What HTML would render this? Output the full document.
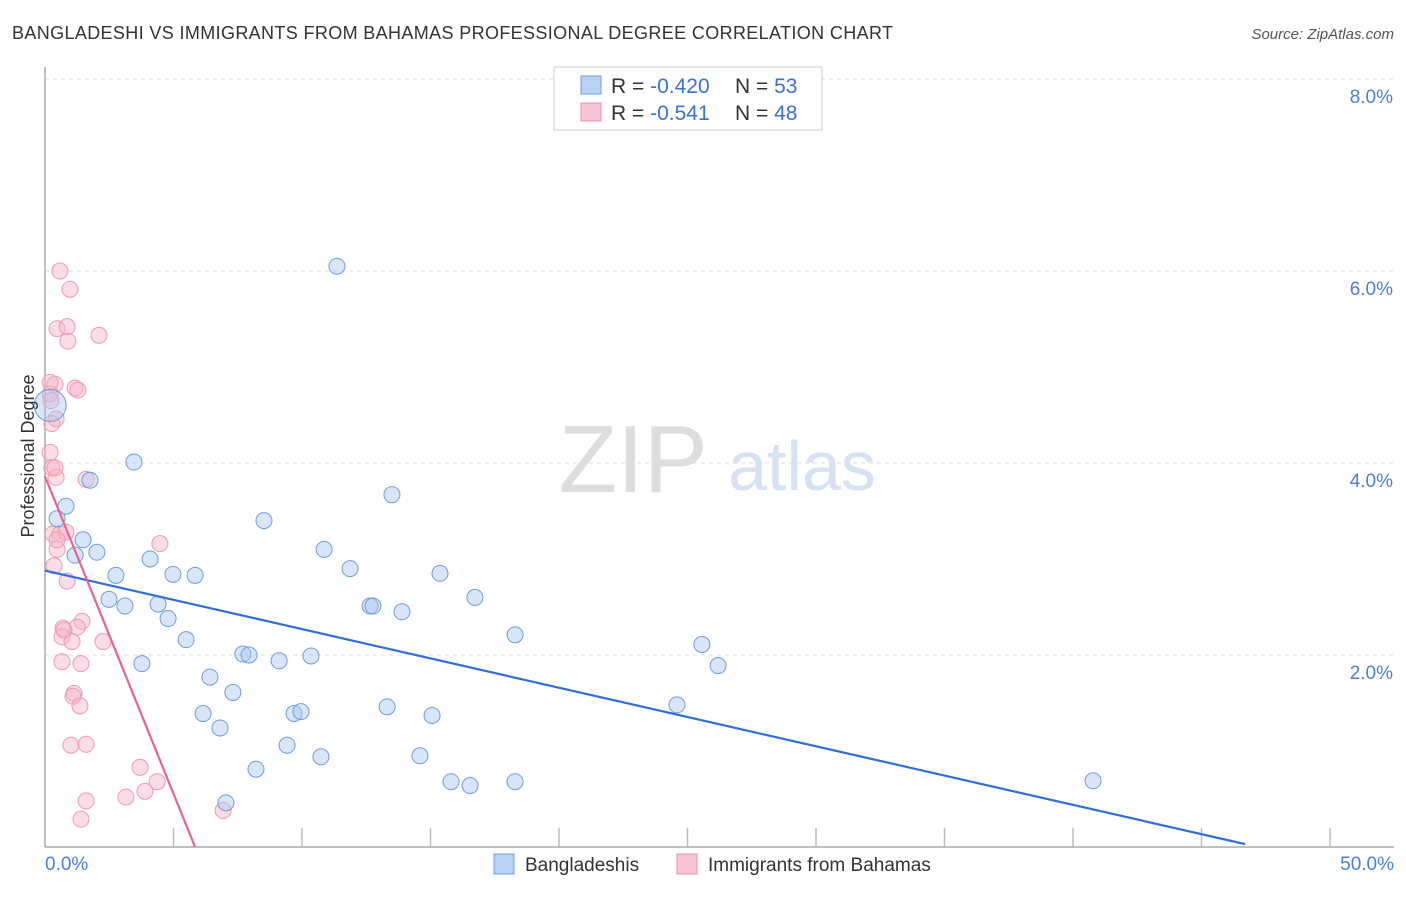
<!DOCTYPE html>
<html><head><meta charset="utf-8"><style>
body{margin:0;background:#fff;font-family:"Liberation Sans",sans-serif;}
svg text{font-family:"Liberation Sans",sans-serif;}
</style></head><body>
<svg width="1406" height="892" xmlns="http://www.w3.org/2000/svg">
<text x="12" y="39" font-size="18" fill="#333" textLength="881">BANGLADESHI VS IMMIGRANTS FROM BAHAMAS PROFESSIONAL DEGREE CORRELATION CHART</text>
<text x="1394" y="39" font-size="15" fill="#555" font-style="italic" text-anchor="end">Source: ZipAtlas.com</text>
<g>
<text x="633" y="492" font-size="96" fill="#ddd" font-family="Liberation Serif,serif" text-anchor="middle">ZIP</text>
<text x="802" y="490" font-size="70" fill="#d4e2f4" text-anchor="middle">atlas</text>
</g>
<g id="grid"></g>
<g id="axes"></g>
<g id="pts"></g>
<g id="lines"></g>
<text transform="translate(34,456) rotate(-90)" font-size="18" fill="#333" text-anchor="middle">Professional Degree</text>
<g>
<rect x="554" y="67" width="268" height="63" fill="#fff" stroke="#ccc"/>
<rect x="581" y="76" width="20" height="18" fill="#b9d2f3" stroke="#6c9ee0"/>
<rect x="581" y="103" width="20" height="18" fill="#f8c7d6" stroke="#ea90ac"/>
<text x="611" y="93" font-size="21" fill="#333">R = <tspan fill="#3a72d4">-0.420</tspan></text>
<text x="735" y="93" font-size="21" fill="#333">N = <tspan fill="#3a72d4">53</tspan></text>
<text x="611" y="120" font-size="21" fill="#333">R =  <tspan fill="#3a72d4">-0.541</tspan></text>
<text x="735" y="120" font-size="21" fill="#333">N = <tspan fill="#3a72d4">48</tspan></text>
</g>
<g>
<rect x="494" y="854" width="20" height="20" fill="#b9d2f3" stroke="#6c9ee0"/>
<text x="525" y="871" font-size="19" fill="#333">Bangladeshis</text>
<rect x="677" y="854" width="20" height="20" fill="#f8c7d6" stroke="#ea90ac"/>
<text x="708" y="871" font-size="19" fill="#333">Immigrants from Bahamas</text>
</g>
</svg>
<script>
const yTicks=[2,4,6,8];
const yTickLabels=["2.0%","4.0%","6.0%","8.0%"];
const xTickLabels=["0.0%","50.0%"];
const blueX=[11.36,3.46,1.75,0.82,0.47,1.48,2.02,1.17,4.09,8.52,13.5,10.86,2.76,4.98,5.84,11.87,15.37,16.73,2.49,3.11,4.4,4.79,12.65,12.76,13.89,5.49,18.29,3.77,7.7,7.94,9.11,10.35,25.56,26.19,6.42,7.31,6.15,6.81,9.69,9.96,13.31,15.06,24.59,9.42,10.74,14.59,8.21,15.8,16.54,18.29,40.78,7.04,0.2];
const blueY=[6.05,4.01,3.82,3.55,3.42,3.2,3.07,3.04,3.0,3.4,3.67,3.1,2.83,2.84,2.83,2.9,2.85,2.6,2.58,2.51,2.53,2.38,2.51,2.51,2.45,2.16,2.21,1.91,2.01,2.0,1.94,1.99,2.11,1.89,1.77,1.61,1.39,1.24,1.39,1.41,1.46,1.37,1.48,1.06,0.94,0.95,0.81,0.68,0.64,0.68,0.69,0.46,4.6];
const pinkX=[0.58,0.97,0.47,0.86,0.89,2.1,0.39,0.2,1.17,1.28,0.43,0.27,0.2,0.27,0.43,1.6,0.31,0.58,0.82,0.47,4.47,0.35,0.86,1.44,1.25,0.7,0.66,1.05,2.26,0.66,1.4,1.13,1.09,1.36,1.01,1.6,3.7,4.36,1.6,3.15,3.89,1.4,6.93,0.2,0.39,0.74,0.47,0.23];
const pinkY=[6.0,5.81,5.4,5.42,5.27,5.33,4.82,4.72,4.78,4.76,4.46,4.41,4.11,3.95,3.85,3.83,3.26,3.26,3.28,3.1,3.16,2.93,2.77,2.35,2.29,2.28,2.19,2.14,2.14,1.93,1.91,1.6,1.57,1.47,1.06,1.07,0.83,0.68,0.48,0.52,0.58,0.29,0.38,4.84,3.95,2.26,3.2,4.65];
const blueTrend=[0,2.88,46.7,0.03];
const pinkTrend=[0,3.86,5.84,0.0];
const X0=45,X1=1330,Y0=847,YS=96;
const sx=v=>X0+(X1-X0)*v/50, sy=v=>Y0-v*YS;
const NS="http://www.w3.org/2000/svg";
function mk(t,a,p){const e=document.createElementNS(NS,t);for(const k in a)e.setAttribute(k,a[k]);p.appendChild(e);return e;}
const grid=document.getElementById('grid'),axes=document.getElementById('axes'),pts=document.getElementById('pts'),lines=document.getElementById('lines');
yTicks.forEach((v,i)=>{
 const l=mk('line',{x1:X0,x2:1394,y1:sy(v),y2:sy(v),stroke:'#ddd','stroke-dasharray':'4,4'},grid);
 
 
 const t=mk('text',{x:1393,y:sy(v)+24,'font-size':19,fill:'#4a80d8','text-anchor':'end'},axes);t.textContent=yTickLabels[i];
 
 
});
mk('line',{x1:X0,x2:X0,y1:67,y2:Y0,stroke:'#aaa','stroke-width':1.5},axes);
mk('line',{x1:X0,x2:1394,y1:Y0,y2:Y0,stroke:'#aaa','stroke-width':1.5},axes);
for(let i=1;i<=10;i++){const x=sx(i*5);mk('line',{x1:x,x2:x,y1:Y0-19,y2:Y0,stroke:'#bbb','stroke-width':1.5},axes);}
[[0,'start',X0],[1,'end',1394]].forEach(([i,a,x])=>{const t=mk('text',{x:x,y:870,'font-size':19,fill:'#4a80d8','text-anchor':a},axes);t.textContent=xTickLabels[i];
 
 });
pinkX.forEach((v,i)=>{const c=mk('circle',{cx:sx(v),cy:sy(pinkY[i]),r:8,fill:'rgba(246,180,200,0.45)',stroke:'#ee9ab4','stroke-width':1},pts);
 
 });
blueX.forEach((v,i)=>{const c=mk('circle',{cx:sx(v),cy:sy(blueY[i]),r:i==blueX.length-1?16:8,fill:'rgba(170,200,240,0.45)',stroke:'#6d9de0','stroke-width':1},pts);
 
 });
const bl=mk('line',{x1:sx(blueTrend[0]),y1:sy(blueTrend[1]),x2:sx(blueTrend[2]),y2:sy(blueTrend[3]),stroke:'#2f6fd6','stroke-width':2.2},lines);


const pl=mk('line',{x1:sx(pinkTrend[0]),y1:sy(pinkTrend[1]),x2:sx(pinkTrend[2]),y2:sy(pinkTrend[3]),stroke:'#e56490','stroke-width':2.2},lines);


</script>
</body></html>
